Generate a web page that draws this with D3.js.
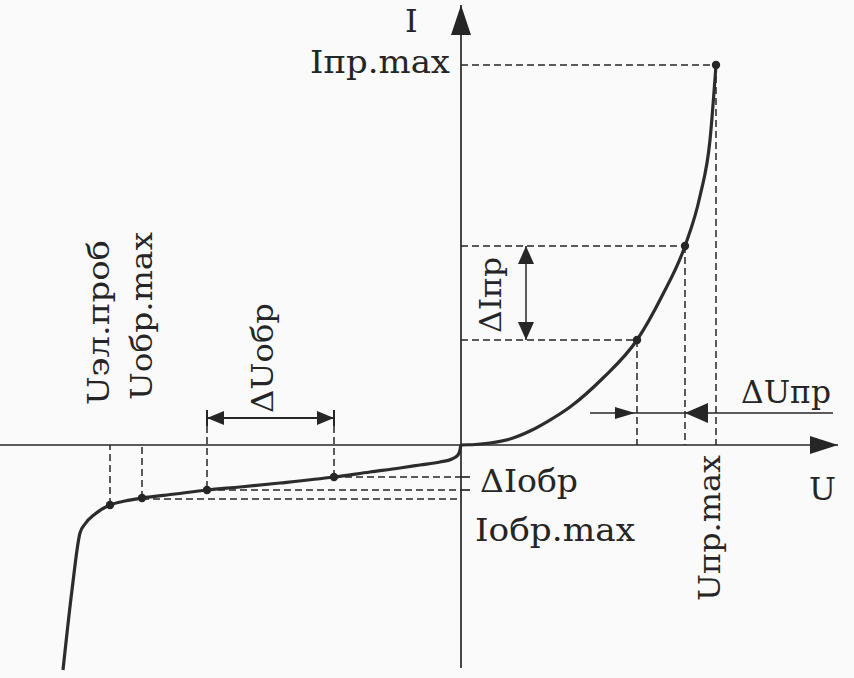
<!DOCTYPE html>
<html>
<head>
<meta charset="utf-8">
<script src="https://cdn.jsdelivr.net/npm/d3@7"></script>
<style>
  html, body { margin: 0; padding: 0; background: #fafafa; }
  svg { display: block; }
  text { font-family: "DejaVu Serif", "Liberation Serif", serif; fill: #252525; }
</style>
</head>
<body>
<script>
// ---- data (U in arbitrary volts, I in arbitrary mA) ----
const fwdU = [0, 0.35, 0.725, 1.225, 1.725, 2.15, 2.725, 3.55, 4.4, 5.025, 5.6, 5.975, 6.225, 6.375];
const fwdI = [0, 0.0125, 0.05, 0.15, 0.35, 0.58, 0.95, 1.675, 2.625, 3.725, 4.975, 6.225, 7.625, 9.5];
const revU = [-9.95, -9.725, -9.525, -9.4, -9.15, -8.775, -8.4, -7.975, -7.15, -6.35, -5.525, -4.525, -3.175, -2.275, -1.525, -1.025, -0.525, -0.225, -0.075, -0.025];
const revI = [-5.625, -3.625, -2.2, -1.975, -1.725, -1.5, -1.4, -1.325, -1.225, -1.125, -1.05, -0.95, -0.8, -0.675, -0.575, -0.5, -0.425, -0.35, -0.25, -0.125];

// marked points
const fwdMarkU = [4.4, 5.6, 6.375];
const fwdMarkI = [2.625, 4.975, 9.5];
const revMarkU = [-3.175, -6.35, -7.975, -8.775];
const revMarkI = [-0.8, -1.125, -1.325, -1.5];

const labels = ["I", "U", "Iпр.max", "ΔIпр", "ΔUпр", "Uпр.max", "ΔIобр", "Iобр.max", "ΔUобр", "Uобр.max", "Uэл.проб"];

// ---- drawing ----
const W = 854, H = 678;
const x = d3.scaleLinear().domain([-11.525, 9.825]).range([0, W]);
const y = d3.scaleLinear().domain([-5.825, 11.125]).range([H, 0]);

const svg = d3.select("body").append("svg").attr("width", W).attr("height", H);
svg.append("rect").attr("width", W).attr("height", H).attr("fill", "#fafafa");

const ink = "#262626";
const x0 = x(0), y0 = y(0);

function line(x1, y1, x2, y2, dashed, w) {
  svg.append("line").attr("x1", x1).attr("y1", y1).attr("x2", x2).attr("y2", y2)
    .attr("stroke", ink).attr("stroke-width", w || 1.5)
    .attr("stroke-dasharray", dashed ? "7,4" : null);
}
function arrow(tx, ty, dir, len, hw) {
  let p;
  if (dir === "up") p = [[tx, ty], [tx - hw, ty + len], [tx + hw, ty + len]];
  if (dir === "down") p = [[tx, ty], [tx - hw, ty - len], [tx + hw, ty - len]];
  if (dir === "left") p = [[tx, ty], [tx + len, ty - hw], [tx + len, ty + hw]];
  if (dir === "right") p = [[tx, ty], [tx - len, ty - hw], [tx - len, ty + hw]];
  svg.append("path").attr("d", "M" + p.map(d => d.join(",")).join("L") + "Z").attr("fill", ink);
}

// axes
line(0, y0, x(9.825) - 16, y0, false, 1.7);
line(x0, y(11.125) + 5, x0, H - 10, false, 1.7);
arrow(x(9.825) - 16, y0, "right", 28, 9);
arrow(x0, 5, "up", 30, 10);

// dashed guides, forward branch
fwdMarkU.forEach((u, i) => {
  line(x0, y(fwdMarkI[i]), x(u), y(fwdMarkI[i]), true);
  line(x(u), y(fwdMarkI[i]), x(u), y0, true);
});
// dashed guides, reverse branch
[0, 1, 2].forEach(i => line(x(revMarkU[i]), y(revMarkI[i]) + (i === 2 ? 1 : 0), x0, y(revMarkI[i]) + (i === 2 ? 1 : 0), true));
[0, 1].forEach(i => line(x0, y(revMarkI[i]), x0 + 9, y(revMarkI[i]), false, 1.7));
[2, 3].forEach(i => line(x(revMarkU[i]), y(revMarkI[i]), x(revMarkU[i]), y0, true));

// ΔUобр dimension
const dimY = y0 - 27;
[0, 1].forEach(i => line(x(revMarkU[i]), dimY - 8, x(revMarkU[i]), dimY + 8, false, 2));
[0, 1].forEach(i => line(x(revMarkU[i]), dimY + 8, x(revMarkU[i]), y(revMarkI[i]), true));
line(x(revMarkU[1]), dimY, x(revMarkU[0]), dimY, false, 1.9);
arrow(x(revMarkU[1]), dimY, "left", 17, 7);
arrow(x(revMarkU[0]), dimY, "right", 17, 7);

// ΔIпр dimension
const dimX = x0 + 65;
line(dimX, y(fwdMarkI[1]), dimX, y(fwdMarkI[0]), false, 1.5);
arrow(dimX, y(fwdMarkI[1]), "up", 18, 8);
arrow(dimX, y(fwdMarkI[0]), "down", 18, 8);

// ΔUпр dimension
const dimY2 = y0 - 32;
line(x(fwdMarkU[0]) - 47, dimY2, x(9.3), dimY2, false, 1.6);
arrow(x(fwdMarkU[0]) - 2, dimY2, "right", 20, 6);
arrow(x(fwdMarkU[1]), dimY2, "left", 23, 10);

// curve
const pts = revU.map((u, i) => [u, revI[i]]).concat(fwdU.map((u, i) => [u, fwdI[i]]));
svg.append("path")
  .attr("d", d3.line().x(d => x(d[0])).y(d => y(d[1])).curve(d3.curveMonotoneX)(pts))
  .attr("fill", "none").attr("stroke", "#2c2c2c").attr("stroke-width", 3.2).attr("stroke-linejoin", "round");

// markers
fwdMarkU.map((u, i) => [u, fwdMarkI[i]]).concat(revMarkU.map((u, i) => [u, revMarkI[i]]))
  .forEach(d => svg.append("circle").attr("cx", x(d[0])).attr("cy", y(d[1])).attr("r", 4.2).attr("fill", ink));

// labels
function hText(t, tx, ty, len, fs) {
  const e = svg.append("text").attr("x", tx).attr("y", ty).attr("font-size", fs || 32).text(t);
  if (len) e.attr("textLength", len).attr("lengthAdjust", "spacingAndGlyphs");
}
function vText(t, tx, ty, len, fs) {
  const e = svg.append("text").attr("transform", `translate(${tx},${ty}) rotate(-90)`).attr("font-size", fs || 29).text(t);
  if (len) e.attr("textLength", len).attr("lengthAdjust", "spacingAndGlyphs");
}
hText(labels[0], 405, 32);
hText(labels[1], 809, 500);
hText(labels[2], 310, 73, 140);
vText(labels[3], 501, 333, 76, 30);
hText(labels[4], 741, 403, 90);
vText(labels[5], 720, 601, 146);
hText(labels[6], 480, 492, 98);
hText(labels[7], 475, 541, 160);
vText(labels[8], 273, 413, 110, 30);
vText(labels[9], 152, 400, 168);
vText(labels[10], 109, 405, 165);
</script>
</body>
</html>
